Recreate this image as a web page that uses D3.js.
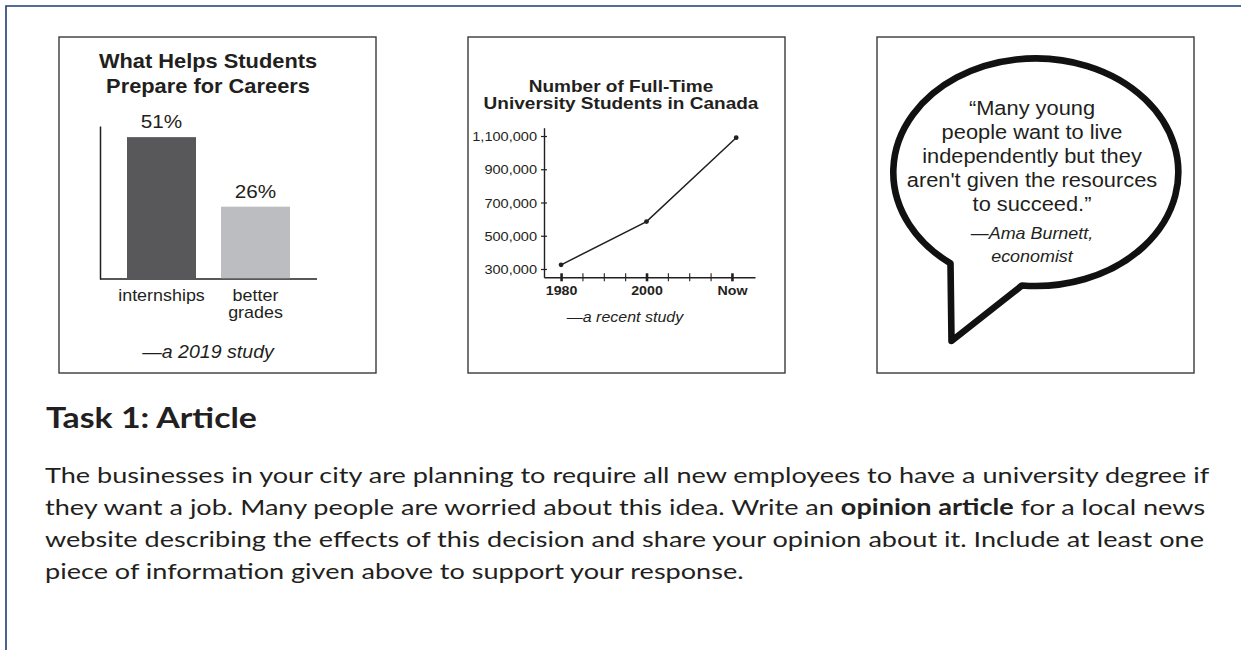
<!DOCTYPE html>
<html>
<head>
<meta charset="utf-8">
<script src="https://cdn.jsdelivr.net/npm/d3@7"></script>
<style>
  html, body { margin: 0; padding: 0; background: #fff; }
  svg { display: block; }
</style>
</head>
<body>
<svg id="page" width="1241" height="650"></svg>
<script>
// ---- bar panel data
var barTitle = ["What Helps Students", "Prepare for Careers"];
var barCategories = ["internships", "better grades"];
var barValues = [51, 26];
var barColors = ["#58585a", "#bcbdc0"];
var barSource = "\u2014a 2019 study";

// ---- line panel data
var lineTitle = ["Number of Full-Time", "University Students in Canada"];
var lineYears = [1980, 2000, 2021];
var lineValues = [325000, 585000, 1090000];
var yTickValues = [300000, 500000, 700000, 900000, 1100000];
var xTickValues = [1980, 1985, 1990, 1995, 2000, 2005, 2010, 2015, 2020];
var xMajorYears = [1980, 2000, 2020];
var xMajorLabels = ["1980", "2000", "Now"];
var lineSource = "\u2014a recent study";

// ---- quote panel
var quoteLines = ["\u201cMany young", "people want to live", "independently but they",
                  "aren't given the resources", "to succeed.\u201d"];
var quoteBy = ["\u2014Ama Burnett,", "economist"];

// ---- task text
var heading = "Task 1: Article";
var bodyLines = [
  [["The businesses in your city are planning to require all new employees to have a university degree if", false]],
  [["they want a job. Many people are worried about this idea. Write an ", false], ["opinion article", true], [" for a local news", false]],
  [["website describing the effects of this decision and share your opinion about it. Include at least one", false]],
  [["piece of information given above to support your response.", false]]
];

var SX = 1.12;   // the print art is a little wider than tall
var helv = "'Liberation Sans', Arial, Helvetica, sans-serif";
var ink = "#231f20";

var svg = d3.select("#page");

// outer frame (top + left only)
svg.append("path")
    .attr("d", "M6,650V6H1241")
    .attr("fill", "none")
    .attr("stroke", "#1d3c78")
    .attr("stroke-width", 1.6);

// panel boxes
var boxX = [59, 468, 877];
svg.selectAll("rect.box")
    .data(boxX)
  .enter().append("rect")
    .attr("class", "box")
    .attr("x", function(d) { return d; })
    .attr("y", 37)
    .attr("width", 317)
    .attr("height", 336)
    .attr("fill", "#fff")
    .attr("stroke", "#3a3a3a")
    .attr("stroke-width", 1.4);

function stext(g, x, y, str, size, weight, style, anchor) {
  return g.append("text")
      .attr("transform", "translate(" + x + "," + y + ") scale(" + SX + ",1)")
      .attr("text-anchor", anchor || "middle")
      .attr("font-family", helv)
      .attr("font-size", size)
      .attr("font-weight", weight || "normal")
      .attr("font-style", style || "normal")
      .attr("fill", ink)
      .text(str);
}

// ================= bar panel
var g1 = svg.append("g");

barTitle.forEach(function(t, i) {
  stext(g1, 208, 68 + i * 25, t, 19.5, "bold");
});

var x1 = d3.scaleBand()
    .domain(barCategories)
    .range([114.5, 302.5])
    .paddingInner(0.266)
    .paddingOuter(0.133);

var y1 = d3.scaleLinear()
    .domain([0, 55])
    .range([279, 126]);

g1.append("g")
    .attr("transform", "translate(100,0)")
    .call(d3.axisLeft(y1).tickValues([]).tickSizeOuter(0))
    .select(".domain")
    .attr("stroke", ink)
    .attr("stroke-width", 1.5);

g1.append("line")
    .attr("x1", 100).attr("x2", 317)
    .attr("y1", y1(0)).attr("y2", y1(0))
    .attr("stroke", ink)
    .attr("stroke-width", 1.5);

g1.selectAll("rect.bar")
    .data(barValues)
  .enter().append("rect")
    .attr("class", "bar")
    .attr("x", function(d, i) { return x1(barCategories[i]); })
    .attr("y", function(d) { return y1(d); })
    .attr("width", x1.bandwidth())
    .attr("height", function(d) { return y1(0) - y1(d) - 0.75; })
    .attr("fill", function(d, i) { return barColors[i]; });

barValues.forEach(function(v, i) {
  var cx = x1(barCategories[i]) + x1.bandwidth() / 2;
  stext(g1, cx, y1(v) - 9, v + "%", 18.5);
  barCategories[i].split(" ").forEach(function(w, j) {
    stext(g1, cx, 301 + j * 17, w, 16);
  });
});

stext(g1, 208, 358, barSource, 17.5, "normal", "italic");

// ================= line panel
var g2 = svg.append("g");

lineTitle.forEach(function(t, i) {
  stext(g2, 621, 91.5 + i * 17, t, 17, "bold");
});

var x2 = d3.scaleLinear().domain([1976, 2025.4]).range([544, 755]);
var y2 = d3.scaleLinear().domain([250000, 1150000]).range([277.3, 127.7]);

var yAx = g2.append("g")
    .attr("transform", "translate(544,0)")
    .call(d3.axisLeft(y2).tickValues(yTickValues).tickFormat(d3.format(",")).tickSize(3).tickSizeOuter(0));
yAx.select(".domain").attr("stroke", ink).attr("stroke-width", 1.4);
yAx.selectAll(".tick line").attr("x1", 3).attr("stroke", ink).attr("stroke-width", 1.2);
yAx.selectAll(".tick text")
    .attr("x", 0).attr("dy", 0)
    .attr("transform", "translate(-7,4.5) scale(" + SX + ",1)")
    .attr("font-family", helv)
    .attr("font-size", 13)
    .attr("fill", ink);

var xAx = g2.append("g")
    .attr("transform", "translate(0," + y2(250000) + ")")
    .call(d3.axisBottom(x2).tickValues(xTickValues)
      .tickFormat(function(d) { var k = xMajorYears.indexOf(d); return k < 0 ? "" : xMajorLabels[k]; })
      .tickSize(4).tickSizeOuter(0));
xAx.select(".domain").attr("stroke", ink).attr("stroke-width", 1.4);
xAx.selectAll(".tick line")
    .attr("y1", -4)
    .attr("stroke", ink)
    .attr("stroke-width", function(d) { return xMajorYears.indexOf(d) < 0 ? 1.1 : 2.6; });
xAx.selectAll(".tick text")
    .attr("y", 0).attr("dy", 0)
    .attr("transform", "translate(0,17.7) scale(" + SX + ",1)")
    .attr("font-family", helv)
    .attr("font-size", 12.7)
    .attr("font-weight", "bold")
    .attr("fill", ink);

var pts = lineYears.map(function(yr, i) { return [yr, lineValues[i]]; });

g2.append("path")
    .datum(pts)
    .attr("fill", "none")
    .attr("stroke", ink)
    .attr("stroke-width", 1.5)
    .attr("d", d3.line().x(function(d) { return x2(d[0]); }).y(function(d) { return y2(d[1]); }));

g2.selectAll("circle")
    .data(pts)
  .enter().append("circle")
    .attr("cx", function(d) { return x2(d[0]); })
    .attr("cy", function(d) { return y2(d[1]); })
    .attr("r", 2.4)
    .attr("fill", ink);

stext(g2, 625, 322, lineSource, 14.3, "normal", "italic");

// ================= quote panel
var g3 = svg.append("g");

var bub = { cx: 1035.8, cy: 172.2, rx: 142.5, ry: 113.8 };
function onEllipse(x) {
  var t = (x - bub.cx) / bub.rx;
  return bub.cy + bub.ry * Math.sqrt(1 - t * t);
}
var tailA = [950.5, onEllipse(950.5)], tailTip = [951.5, 341], tailB = [1022, onEllipse(1022)];
var bp = d3.path();
bp.moveTo(tailA[0], tailA[1]);
bp.lineTo(tailTip[0], tailTip[1]);
bp.lineTo(tailB[0], tailB[1]);
g3.append("path")
    .attr("d", bp.toString() + "A" + bub.rx + "," + bub.ry + " 0 1 0 " + tailA[0] + "," + tailA[1] + "Z")
    .attr("fill", "#fff")
    .attr("stroke", "#111")
    .attr("stroke-width", 6.6)
    .attr("stroke-linejoin", "round");

quoteLines.forEach(function(t, i) {
  stext(g3, 1032, 115 + i * 24, t, 19.5);
});
quoteBy.forEach(function(t, i) {
  stext(g3, 1032, 238.5 + i * 23, t, 16, "normal", "italic");
});

// ================= task text
var avenir = "Lato, 'Open Sans', sans-serif";

var h = svg.append("text")
    .attr("font-family", avenir)
    .attr("font-size", 29)
    .attr("font-weight", "bold")
    .attr("fill", ink)
    .text(heading);
var hs = 211 / h.node().getComputedTextLength();
h.attr("transform", "translate(46,428) scale(" + hs + ",1)");

var bodyText = bodyLines.map(function(line, i) {
  var t = svg.append("text")
      .attr("font-family", avenir)
      .attr("font-size", 22)
      .attr("fill", ink);
  line.forEach(function(seg) {
    t.append("tspan")
        .attr("font-weight", seg[1] ? "bold" : "normal")
        .text(seg[0]);
  });
  return t;
});
var bs = 1165 / bodyText[0].node().getComputedTextLength();
bodyText.forEach(function(t, i) {
  t.attr("transform", "translate(45," + (483 + i * 32) + ") scale(" + bs + ",1)");
});
</script>
</body>
</html>
